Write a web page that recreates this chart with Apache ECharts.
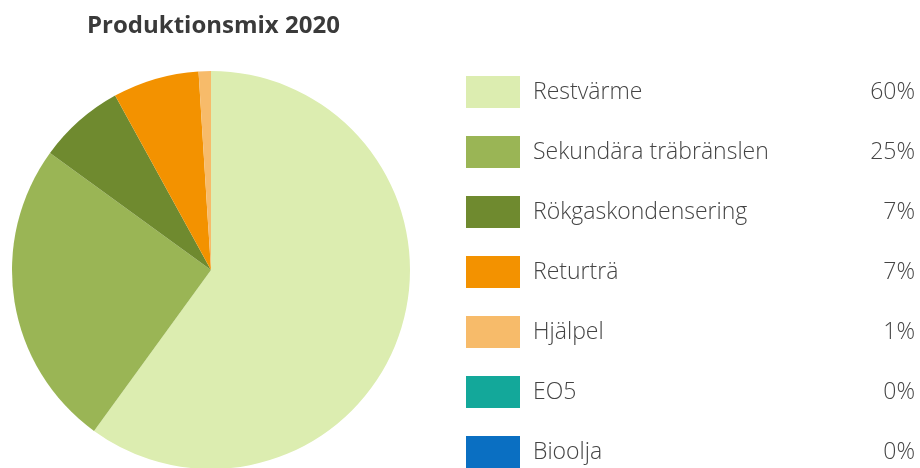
<!DOCTYPE html>
<html>
<head>
<meta charset="utf-8">
<script src="https://cdn.jsdelivr.net/npm/echarts@6/dist/echarts.min.js"></script>
<style>html,body{margin:0;padding:0;background:#fff;}#c{width:920px;height:468px;}</style>
</head>
<body>
<div id="c"></div>
<script>
const titleText = 'Produktionsmix 2020';
const categories = ['Restvärme', 'Sekundära träbränslen', 'Rökgaskondensering', 'Returträ', 'Hjälpel', 'EO5', 'Bioolja'];
const values = [60, 25, 7, 7, 1, 0, 0];
const colors = ['#dcedb0', '#9ab555', '#6f8a2f', '#f39200', '#f7bb6a', '#13a89a', '#0a6fc2'];

const chart = echarts.init(document.getElementById('c'));
const valueByName = {};
categories.forEach((c, i) => { valueByName[c] = values[i]; });

chart.setOption({
  animation: false,
  title: {
    text: titleText,
    left: 87,
    top: 14,
    padding: 0,
    textStyle: { fontFamily: 'Open Sans', fontWeight: 'bold', fontSize: 24, color: '#3a3a3a' }
  },
  legend: {
    orient: 'vertical',
    left: 466,
    top: 76,
    padding: 0,
    itemWidth: 54,
    itemHeight: 32,
    itemGap: 28,
    icon: 'rect',
    selectedMode: false,
    data: categories,
    formatter: function (name) {
      return '{n|' + name + '}{p|' + valueByName[name] + '%}';
    },
    textStyle: {
      rich: {
        n: { fontFamily: 'Open Sans', fontWeight: 300, fontSize: 23, color: '#444', width: 322, padding: [0, 0, 0, 8] },
        p: { fontFamily: 'Open Sans', fontWeight: 300, fontSize: 23, color: '#444', width: 60, align: 'right' }
      }
    }
  },
  series: [{
    type: 'pie',
    center: [211, 270],
    radius: [0, 199],
    startAngle: 90,
    clockwise: true,
    label: { show: false },
    labelLine: { show: false },
    emphasis: { disabled: true },
    silent: true,
    itemStyle: { borderWidth: 0 },
    data: categories.map((c, i) => ({ name: c, value: values[i], itemStyle: { color: colors[i] } }))
  }]
});
</script>
</body>
</html>
